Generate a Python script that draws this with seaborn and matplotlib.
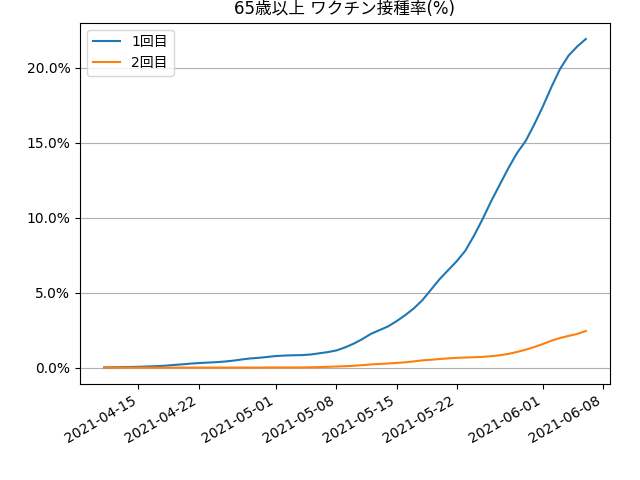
import matplotlib
matplotlib.use("Agg")
import matplotlib.pyplot as plt
import matplotlib.dates as mdates
from matplotlib.ticker import PercentFormatter
import seaborn as sns
import pandas as pd

plt.rcParams['font.family'] = ['DejaVu Sans', 'Noto Sans CJK JP']

start_date = "2021-04-11"
end_date = "2021-06-06"

dose1 = [0.02, 0.03, 0.04, 0.05, 0.06, 0.08, 0.10, 0.13, 0.18, 0.22,
         0.27, 0.31, 0.34, 0.37, 0.41, 0.47, 0.55, 0.62, 0.66, 0.72,
         0.78, 0.81, 0.83, 0.84, 0.88, 0.96, 1.04, 1.15, 1.35, 1.60,
         1.90, 2.25, 2.50, 2.75, 3.10, 3.50, 3.95, 4.50, 5.20, 5.90,
         6.50, 7.10, 7.80, 8.80, 9.90, 11.10, 12.20, 13.30, 14.30, 15.10,
         16.20, 17.40, 18.70, 19.90, 20.80, 21.40, 21.90]

dose2 = [0.01, 0.01, 0.01, 0.01, 0.01, 0.01, 0.01, 0.01, 0.01, 0.01,
         0.01, 0.01, 0.01, 0.01, 0.01, 0.01, 0.01, 0.01, 0.01, 0.02,
         0.02, 0.02, 0.02, 0.02, 0.03, 0.04, 0.06, 0.08, 0.10, 0.13,
         0.17, 0.22, 0.25, 0.28, 0.32, 0.36, 0.42, 0.49, 0.53, 0.58,
         0.62, 0.66, 0.68, 0.70, 0.72, 0.77, 0.83, 0.92, 1.05, 1.20,
         1.38, 1.58, 1.80, 1.98, 2.12, 2.25, 2.45]

labels = ["1回目", "2回目"]
title = "65歳以上 ワクチン接種率(%)"

dates = pd.date_range(start_date, end_date, freq="D")

fig, ax = plt.subplots(figsize=(6.4, 4.8), dpi=100)
sns.lineplot(x=dates, y=dose1, ax=ax, label=labels[0], color="#1f77b4", linewidth=1.5)
sns.lineplot(x=dates, y=dose2, ax=ax, label=labels[1], color="#ff7f0e", linewidth=1.5)

ax.set_title(title, fontsize=12)
ax.yaxis.set_major_formatter(PercentFormatter(100, decimals=1))
ax.xaxis.set_major_locator(mdates.DayLocator(bymonthday=[1, 8, 15, 22]))
ax.xaxis.set_major_formatter(mdates.DateFormatter("%Y-%m-%d"))
ax.grid(axis="y", color="#b0b0b0", linewidth=0.8)
ax.set_axisbelow(True)
ax.set_xlabel("")
ax.set_ylabel("")
ax.legend(loc="upper left")
fig.autofmt_xdate()
fig.subplots_adjust(left=0.125, right=0.953, top=0.953, bottom=0.2)
fig.savefig("out.png", dpi=100)
